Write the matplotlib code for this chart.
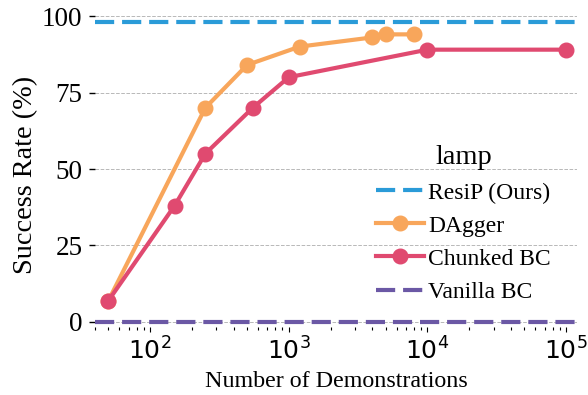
import numpy as np
import matplotlib
matplotlib.use("Agg")
import matplotlib.pyplot as plt

# --- Data ---
dagger_n = [50, 250, 500, 1200, 4000, 5000, 8000]
dagger_sr = [7, 70, 84, 90, 93, 94, 94]

chunked_n = [50, 150, 250, 550, 1000, 10000, 100000]
chunked_sr = [7, 38, 55, 70, 80, 89, 89]

resip_sr = 98
vanilla_sr = 0

task = "lamp"

plt.rcParams['font.family'] = ['Liberation Serif', 'DejaVu Serif']
plt.rcParams['mathtext.fontset'] = 'dejavusans'

fig = plt.figure(figsize=(5.88, 3.95), dpi=100)
ax = fig.add_axes([0.1616, 0.1732, 0.8197, 0.7979])

ax.axhline(resip_sr, color='#2A9BD8', lw=3, linestyle=(0, (4.6, 1.9)), label='ResiP (Ours)', zorder=3)
ax.plot(dagger_n, dagger_sr, '-o', color='#F8A65B', lw=3, markersize=10.5, label='DAgger', zorder=4)
ax.plot(chunked_n, chunked_sr, '-o', color='#E04A70', lw=3, markersize=10.5, label='Chunked BC', zorder=5)
ax.axhline(vanilla_sr, color='#6B58A5', lw=3, linestyle=(0, (4.6, 1.9)), label='Vanilla BC', zorder=3)

ax.set_xscale('log')
ax.set_xlim(40, 120000)
ax.set_ylim(-1.5, 101.5)
ax.set_yticks([0, 25, 50, 75, 100])

ax.grid(True, axis='y', linestyle='--', color='#b8b8b8', linewidth=0.7)
ax.set_axisbelow(True)
for s in ax.spines.values():
    s.set_visible(False)

ax.tick_params(axis='y', labelsize=19.5, length=4, width=1, pad=5)
ax.tick_params(axis='x', which='major', labelsize=18, length=3.5, width=0.8, pad=4)
ax.tick_params(axis='x', which='minor', length=2.5, width=0.8)
for lab in ax.get_xticklabels():
    lab.set_fontfamily('DejaVu Sans')

ax.set_xlabel('Number of Demonstrations', fontsize=17.3, labelpad=5)
ax.set_ylabel('Success Rate (%)', fontsize=20.3)
ax.yaxis.set_label_coords(-0.118, 0.48)

leg = ax.legend(title=task, loc='center right', bbox_to_anchor=(0.99, 0.325), frameon=False,
                fontsize=17, title_fontsize=20.5, handlelength=2.0, handletextpad=0.2,
                labelspacing=0.49)

fig.savefig('out.png', dpi=100)
